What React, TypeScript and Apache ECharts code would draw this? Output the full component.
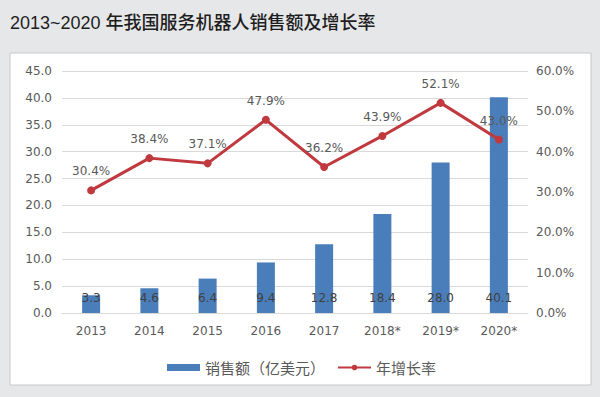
import React, { useEffect, useRef } from "react";
import * as echarts from "echarts";

const categories = ["2013", "2014", "2015", "2016", "2017", "2018*", "2019*", "2020*"];
const sales = [3.3, 4.6, 6.4, 9.4, 12.8, 18.4, 28.0, 40.1];
const growth = [30.4, 38.4, 37.1, 47.9, 36.2, 43.9, 52.1, 43.0];
const titleText = "2013~2020 年我国服务机器人销售额及增长率";
const salesName = "销售额（亿美元）";
const growthName = "年增长率";

export default function App() {
  const ref = useRef<HTMLDivElement>(null);
  useEffect(() => {
    document.body.style.margin = "0";
    const chart = echarts.init(ref.current!, null, { renderer: "svg" });
    const font = "'DejaVu Sans', 'Noto Sans CJK SC', sans-serif";
    chart.setOption({
      animation: false,
      backgroundColor: "#e6e7e9",
      textStyle: { fontFamily: font },
      graphic: [
        {
          type: "rect",
          shape: { x: 10, y: 53, width: 581, height: 332 },
          style: { fill: "#ffffff", stroke: "#c8c8c8", lineWidth: 1 },
          z: -10,
        },
        {
          type: "text",
          x: 10,
          y: 23,
          style: {
            text: titleText,
            fill: "#1e1e1e",
            font: "500 18px 'Liberation Sans', 'Noto Sans CJK SC', sans-serif",
            textVerticalAlign: "middle",
          },
        },
      ],
      grid: { left: 62, right: 72, top: 71, bottom: 84 },
      legend: {
        top: 355,
        left: 162,
        itemWidth: 33,
        itemHeight: 7,
        itemGap: 12,
        textStyle: { color: "#595959", fontSize: 15, fontFamily: "'Noto Sans CJK SC', sans-serif" },
        data: [
          { name: salesName, icon: "rect" },
          { name: growthName },
        ],
      },
      xAxis: {
        type: "category",
        data: categories,
        axisLine: { lineStyle: { color: "#d9d9d9" } },
        axisTick: { show: false },
        axisLabel: { color: "#595959", fontSize: 12, margin: 12 },
      },
      yAxis: [
        {
          type: "value",
          min: 0,
          max: 45,
          interval: 5,
          axisLine: { show: false },
          axisTick: { show: false },
          axisLabel: { color: "#595959", fontSize: 12, margin: 10, formatter: (v: number) => v.toFixed(1) },
          splitLine: { lineStyle: { color: "#d9d9d9" } },
        },
        {
          type: "value",
          min: 0,
          max: 60,
          interval: 10,
          axisLine: { show: false },
          axisTick: { show: false },
          axisLabel: { color: "#595959", fontSize: 12, margin: 8, formatter: (v: number) => v.toFixed(1) + "%" },
          splitLine: { show: false },
        },
      ],
      series: [
        {
          name: salesName,
          type: "bar",
          data: sales,
          barWidth: 18,
          itemStyle: { color: "#4a7ebb" },
          label: {
            show: true,
            position: "insideBottom",
            distance: 9,
            color: "#404040",
            fontSize: 12,
            formatter: (p: any) => Number(p.value).toFixed(1),
          },
        },
        {
          name: growthName,
          type: "line",
          yAxisIndex: 1,
          data: growth,
          symbol: "circle",
          symbolSize: 8,
          itemStyle: { color: "#c0393f" },
          lineStyle: { color: "#c0393f", width: 3 },
          label: {
            show: true,
            position: "top",
            distance: 9,
            color: "#595959",
            fontSize: 12,
            formatter: (p: any) => Number(p.value).toFixed(1) + "%",
          },
          z: 3,
        },
      ],
    });
    return () => chart.dispose();
  }, []);
  return <div ref={ref} style={{ width: 600, height: 397 }} />;
}
